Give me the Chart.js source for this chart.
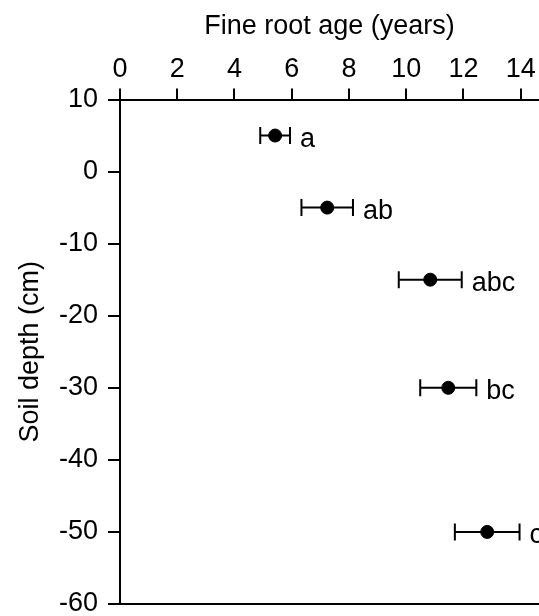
<!DOCTYPE html>
<html lang="en">
<head>
  <meta charset="UTF-8">
  <title>Fine root age by soil depth</title>
  <script src="https://cdn.jsdelivr.net/npm/chart.js"></script>
  <style>
    html, body { margin: 0; padding: 0; background: #fff; }
    #wrap { width: 539px; height: 616px; }
  </style>
</head>
<body>
  <div id="wrap"><canvas id="grafico"></canvas></div>

  <script>
    // values
    const depths = [5, -5, -15, -30, -50];
    const rootAge = [5.42, 7.24, 10.84, 11.47, 12.83];
    const ageErr = [0.52, 0.9, 1.1, 0.98, 1.13];
    const groups = ['a', 'ab', 'abc', 'bc', 'c'];
    const xTicks = [0, 2, 4, 6, 8, 10, 12, 14];
    const yTicks = [10, 0, -10, -20, -30, -40, -50, -60];

    const family = 'Liberation Sans, Arial, sans-serif';
    const tickFont = { family: family, size: 27 };
    const titleFont = { family: family, size: 27 };

    // error bars + group letters, positioned through the scales
    const errorBars = {
      id: 'errorBars',
      afterDatasetsDraw(chart) {
        const ctx = chart.ctx;
        const xs = chart.scales.x, ys = chart.scales.y;
        ctx.save();
        ctx.strokeStyle = '#000';
        ctx.lineWidth = 2;
        ctx.fillStyle = '#000';
        ctx.font = tickFont.size + 'px ' + family;
        ctx.textAlign = 'left';
        ctx.textBaseline = 'alphabetic';
        rootAge.forEach((v, i) => {
          const y = ys.getPixelForValue(depths[i]);
          const x0 = xs.getPixelForValue(v - ageErr[i]);
          const x1 = xs.getPixelForValue(v + ageErr[i]);
          ctx.beginPath();
          ctx.moveTo(x0, y); ctx.lineTo(x1, y);
          ctx.moveTo(x0, y - 8.5); ctx.lineTo(x0, y + 8.5);
          ctx.moveTo(x1, y - 8.5); ctx.lineTo(x1, y + 8.5);
          ctx.stroke();
          ctx.fillText(groups[i], x1 + 10, y + 11);
        });
        ctx.restore();
      }
    };

    new Chart(document.getElementById('grafico'), {
      type: 'scatter',
      data: {
        datasets: [{
          data: rootAge.map((v, i) => ({ x: v, y: depths[i] })),
          backgroundColor: '#000',
          borderColor: '#000',
          pointRadius: 6.5,
          pointHoverRadius: 6.5
        }]
      },
      plugins: [errorBars],
      options: {
        responsive: true,
        maintainAspectRatio: false,
        animation: false,
        layout: { padding: 0, autoPadding: false },
        plugins: { legend: { display: false }, tooltip: { enabled: false } },
        scales: {
          x: {
            position: 'top',
            min: 0,
            max: 14.64,
            afterBuildTicks: s => { s.ticks = xTicks.map(v => ({ value: v })); },
            afterFit: s => { s.height = 99.5; s.paddingRight = 0; s.paddingLeft = 0; },
            ticks: { color: '#000', font: tickFont, padding: 3, maxRotation: 0 },
            grid: { drawOnChartArea: false, color: '#000', tickLength: 11, lineWidth: 2 },
            border: { display: true, color: '#000', width: 2 },
            title: { display: true, text: 'Fine root age (years)', color: '#000', font: titleFont, padding: { top: 10, bottom: 0 } }
          },
          x2: {
            type: 'linear',
            position: 'bottom',
            min: 0,
            max: 14.64,
            afterFit: s => { s.height = 12; s.paddingRight = 0; s.paddingLeft = 0; },
            ticks: { display: false },
            grid: { display: false },
            border: { display: true, color: '#000', width: 2 }
          },
          y: {
            min: -60,
            max: 10,
            afterBuildTicks: s => { s.ticks = yTicks.map(v => ({ value: v })); },
            afterFit: s => { s.width = 120; s.paddingTop = 0; s.paddingBottom = 0; },
            ticks: { color: '#000', font: tickFont, padding: 10 },
            grid: { drawOnChartArea: false, color: '#000', tickLength: 12, lineWidth: 2 },
            border: { display: true, color: '#000', width: 2 },
            title: { display: true, text: 'Soil depth (cm)', color: '#000', font: titleFont, padding: { top: 14, bottom: 0 } }
          }
        }
      }
    });
  </script>
</body>
</html>
